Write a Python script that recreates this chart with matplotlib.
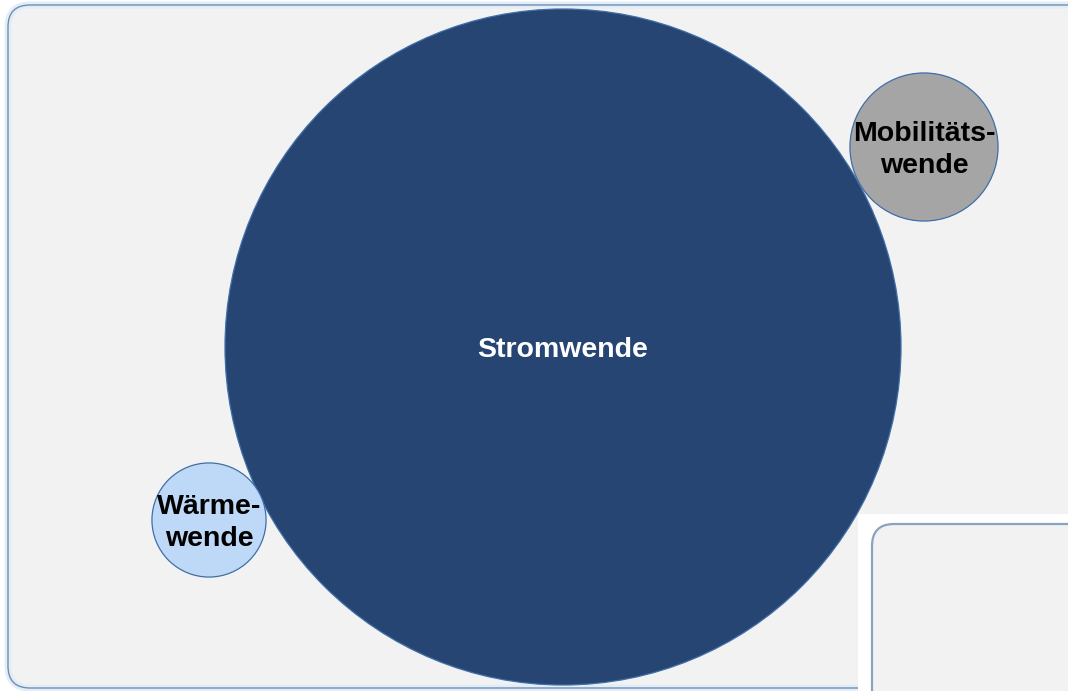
import matplotlib
matplotlib.use("Agg")
import matplotlib.pyplot as plt
from matplotlib.patches import Circle, FancyBboxPatch, Rectangle
import numpy as np

# bubble data (value ~ bubble area)
labels = ["Stromwende", "Mobilitäts-\nwende", "Wärme-\nwende"]
values = [100.0, 4.8, 2.85]
x_pos = [563, 924, 209]
y_pos = [347, 147, 520]
fills = ["#264573", "#a5a5a5", "#bdd9f7"]
text_colors = ["white", "black", "black"]

W, H = 1068, 691
fig = plt.figure(figsize=(W / 100, H / 100), dpi=100)
ax = fig.add_axes([0, 0, 1, 1])
ax.set_xlim(0, W)
ax.set_ylim(H, 0)
ax.set_aspect("equal")
ax.axis("off")

# panel background
ax.add_patch(FancyBboxPatch((8, 5), 1100, 683, boxstyle="round,pad=0,rounding_size=22",
                            fc="#f2f2f2", ec="#e2edf8", lw=5, zorder=0))
ax.add_patch(FancyBboxPatch((8, 5), 1100, 683, boxstyle="round,pad=0,rounding_size=22",
                            fc="none", ec="#6f8eb0", lw=1.0, zorder=0.5))

# second panel peeking in at the bottom right
ax.add_patch(Rectangle((858, 514), 240, 200, fc="white", ec="none", zorder=5))
ax.add_patch(FancyBboxPatch((872, 524), 240, 200, boxstyle="round,pad=0,rounding_size=22",
                            fc="#f2f2f2", ec="#8aa4c0", lw=1.6, zorder=6))

scale = 338 / np.sqrt(values[0])
for lab, v, x, y, fc, tc in zip(labels, values, x_pos, y_pos, fills, text_colors):
    r = scale * np.sqrt(v)
    ax.add_patch(Circle((x, y), r, fc=fc, ec="#3f6fa8", lw=0.9, zorder=2))
    ax.text(x, y + 3, lab, ha="center", va="center", color=tc, fontsize=20.5,
            fontweight="bold", family="Liberation Sans", linespacing=1.32, zorder=3)

fig.savefig("out.png", dpi=100)
